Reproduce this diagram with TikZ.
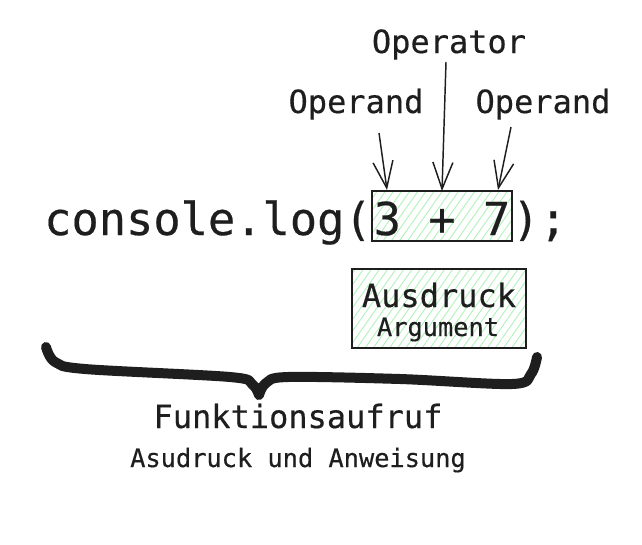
\documentclass[tikz,border=0pt]{standalone}
\usepackage{fontspec}
\setmonofont{DejaVu Sans Mono}[FakeBold=0.4]
\usetikzlibrary{arrows.meta,patterns.meta}
\definecolor{ink}{HTML}{1E1E1E}
\definecolor{hatch}{HTML}{B2F2BB}
\tikzset{
  code/.style={font=\ttfamily\fontsize{34}{40}\selectfont},
  big/.style={font=\ttfamily\fontsize{24}{28}\selectfont},
  small/.style={font=\ttfamily\fontsize{19}{22}\selectfont},
  hatched/.style={draw=ink, line width=1.1pt,
    pattern={Lines[angle=55,distance=5pt,line width=0.7pt]}, pattern color=hatch},
  pfeil/.style={draw=ink, line width=1.1pt,
    -{Straight Barb[length=20pt,width=15pt,line width=1.1pt]}}
}
\begin{document}
\begin{tikzpicture}[x=0.75pt,y=-0.75pt]
  \useasboundingbox (0,0) rectangle (642,544);

  \begin{scope}[every node/.style={text=ink, inner sep=0pt}]
    % code line
    \node[code, anchor=base east] (links) at (372,235) {console.log(};
    \node[code, hatched, anchor=base, minimum width=105pt,
          text height=33pt, text depth=4.5pt] (summe) at (442,235) {3 + 7};
    \node[code, anchor=base west] (rechts) at (512,235) {);};

    % labels above
    \node[big, anchor=base] (opr)  at (449,53)  {Operator};
    \node[big, anchor=base] (opdL) at (356,113) {Operand};
    \node[big, anchor=base] (opdR) at (543,113) {Operand};

    % expression box
    \node[hatched, minimum width=130.5pt, minimum height=59pt] (ausdruck) at (439,308.5) {};
    \node[big, anchor=base]   (ausdr) at (439,307) {Ausdruck};
    \node[small, anchor=base] (argum) at (438,336) {Argument};

    % labels below
    \node[big, anchor=base]   (aufruf) at (298,428) {Funktionsaufruf};
    \node[small, anchor=base] (anw)    at (298,467) {Asudruck und Anweisung};
  \end{scope}

  \coordinate (a1) at (379,133);
  \coordinate (a2) at (387,190);
  \coordinate (b1) at (446,62);
  \coordinate (b2) at (442,191);
  \coordinate (c1) at (511,127);
  \coordinate (c2) at (498,190);

  \draw[pfeil] (a1) -- (a2);
  \draw[pfeil] (b1) -- (b2);
  \draw[pfeil] (c1) -- (c2);

  % brace
  \draw[ink, line width=7.5pt, line cap=round, line join=round]
    plot[smooth, tension=0.55] coordinates {(46,347) (55,362) (85,369) (230,377) (252,384) (259,395)}
    plot[smooth, tension=0.55] coordinates {(259,395) (266,383) (288,377) (400,379) (512,384) (531,374) (537,357)};

\end{tikzpicture}
\end{document}
